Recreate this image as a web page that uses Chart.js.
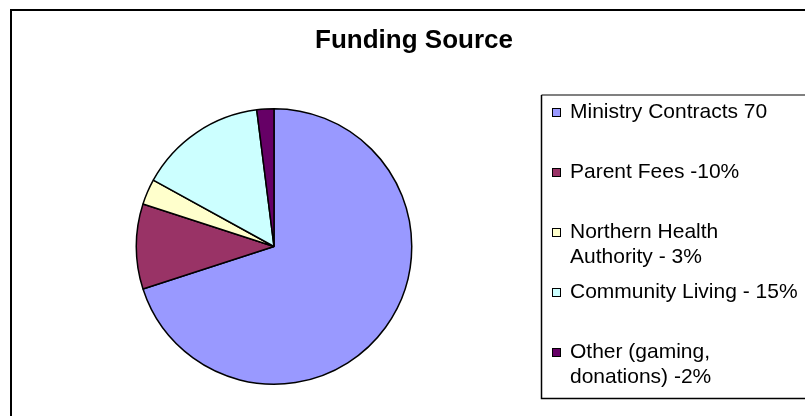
<!DOCTYPE html>
<html>
<head>
<meta charset="utf-8">
<title>Funding Source</title>
<script src="https://cdn.jsdelivr.net/npm/chart.js@4/dist/chart.umd.min.js"></script>
<style>
    html, body { margin: 0; padding: 0; background: #fff; }
    #wrap { position: relative; width: 805px; height: 416px; }
</style>
</head>
<body>
<div id="wrap"><canvas id="fundingChart"></canvas></div>
<script>
/* ================= DATA ================= */
const chartTitle = "Funding Source";
const categories = [
    ["Ministry Contracts 70"],
    ["Parent Fees -10%"],
    ["Northern Health", "Authority - 3%"],
    ["Community Living - 15%"],
    ["Other (gaming,", "donations) -2%"]
];
const shares = [70, 10, 3, 15, 2];
const sliceColors = ["#9999FF", "#993366", "#FFFFCC", "#CCFFFF", "#660066"];

/* ================= FRAME, TITLE, LEGEND ================= */
const decorPlugin = {
    id: "decor",
    beforeDraw(chart) {
        const ctx = chart.ctx;
        ctx.save();
        ctx.fillStyle = "#fff";
        ctx.fillRect(0, 0, chart.width, chart.height);

        // outer chart frame (only top / left visible)
        ctx.strokeStyle = "#000";
        ctx.lineWidth = 2;
        ctx.beginPath();
        ctx.moveTo(11, chart.height + 2);
        ctx.lineTo(11, 10);
        ctx.lineTo(chart.width + 2, 10);
        ctx.stroke();

        // title
        ctx.fillStyle = "#000";
        ctx.font = "bold 26px 'Liberation Sans', Arial, sans-serif";
        ctx.textAlign = "center";
        ctx.textBaseline = "alphabetic";
        ctx.fillText(chartTitle, 414, 48);
        ctx.restore();
    },
    afterDraw(chart) {
        const ctx = chart.ctx;
        ctx.save();

        // legend box
        const bx = 541.5, by = 95, bb = 398.5;
        ctx.lineWidth = 2;
        ctx.strokeStyle = "#808080";
        ctx.beginPath();
        ctx.moveTo(bx, by);
        ctx.lineTo(chart.width + 2, by);
        ctx.stroke();
        ctx.lineWidth = 1.5;
        ctx.strokeStyle = "#000";
        ctx.beginPath();
        ctx.moveTo(bx, by);
        ctx.lineTo(bx, bb);
        ctx.lineTo(chart.width + 2, bb);
        ctx.stroke();

        // legend entries
        const colors = chart.data.datasets[0].backgroundColor;
        ctx.font = "21px 'Liberation Sans', Arial, sans-serif";
        ctx.textAlign = "left";
        ctx.textBaseline = "alphabetic";
        chart.data.labels.forEach((lines, i) => {
            const base = 118 + i * 60;
            ctx.fillStyle = colors[i];
            ctx.fillRect(552, base - 10, 9, 9);
            ctx.lineWidth = 1;
            ctx.strokeStyle = "#000";
            ctx.strokeRect(552.5, base - 9.5, 8, 8);
            ctx.fillStyle = "#000";
            lines.forEach((line, j) => ctx.fillText(line, 570, base + j * 25));
        });
        ctx.restore();
    }
};

/* ================= CHART ================= */
new Chart(document.getElementById("fundingChart"), {
    type: "pie",
    data: {
        labels: categories,
        datasets: [{
            data: shares,
            backgroundColor: sliceColors,
            borderColor: "#000",
            borderWidth: 1.5
        }]
    },
    options: {
        responsive: true,
        maintainAspectRatio: false,
        animation: false,
        layout: {
            padding: { left: 135, right: 392, top: 108, bottom: 31 }
        },
        plugins: {
            legend: { display: false },
            title: { display: false },
            tooltip: { enabled: true }
        }
    },
    plugins: [decorPlugin]
});
</script>
</body>
</html>
